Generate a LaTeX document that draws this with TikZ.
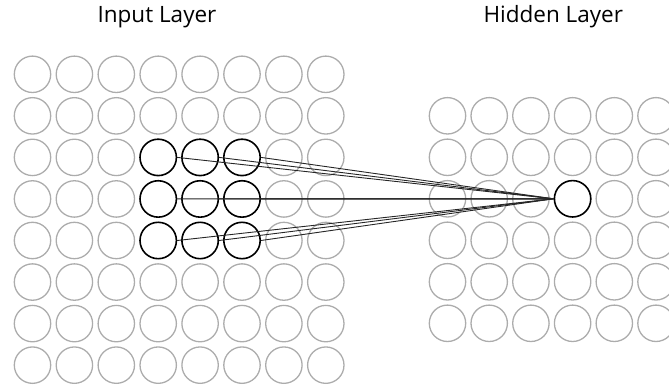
\documentclass[tikz,border=0pt]{standalone}
\usepackage{fontspec}
\setmainfont{Open Sans}
\definecolor{cellgray}{RGB}{172,172,172}
\begin{document}
\begin{tikzpicture}[x=1pt,y=-1pt,
  cell/.style={circle,draw=cellgray,line width=1.3pt,minimum size=36.4pt,inner sep=0pt},
  active/.style={circle,draw=black,line width=1.6pt,minimum size=36.4pt,inner sep=0pt},
  link/.style={draw=black!85,line width=0.9pt},
  title/.style={font=\fontsize{22.5}{26}\selectfont,anchor=base}]
\clip (0,0) rectangle (669,387);
\useasboundingbox (0,0) rectangle (669,387);
\node[title] (tin) at (157,22.7) {Input Layer};
\node[title] (thid) at (553.3,22.7) {Hidden Layer};
% input layer 8x8
\foreach \r in {1,...,8}{
  \foreach \c in {1,...,8}{
    \pgfmathsetmacro{\xx}{32.5+41.9*(\c-1)}
    \pgfmathsetmacro{\yy}{74.3+41.55*(\r-1)}
    \pgfmathtruncatemacro{\isact}{(\r>=3)&&(\r<=5)&&(\c>=4)&&(\c<=6)}
    \ifnum\isact=1
      \node[active] (in-\r-\c) at (\xx,\yy) {};
    \else
      \node[cell] (in-\r-\c) at (\xx,\yy) {};
    \fi
  }
}
% hidden layer 6x6
\foreach \r in {1,...,6}{
  \foreach \c in {1,...,6}{
    \pgfmathsetmacro{\xx}{447.5+41.7*(\c-1)}
    \pgfmathsetmacro{\yy}{115.8+41.5*(\r-1)}
    \pgfmathtruncatemacro{\isact}{(\r==3)&&(\c==4)}
    \ifnum\isact=1
      \node[active] (hid-\r-\c) at (\xx,\yy) {};
    \else
      \node[cell] (hid-\r-\c) at (\xx,\yy) {};
    \fi
  }
}
% connections
\foreach \r in {3,4,5}{
  \foreach \c in {4,5,6}{
    \draw[link] (in-\r-\c.east) -- (hid-3-4.west);
  }
}
\end{tikzpicture}
\end{document}
